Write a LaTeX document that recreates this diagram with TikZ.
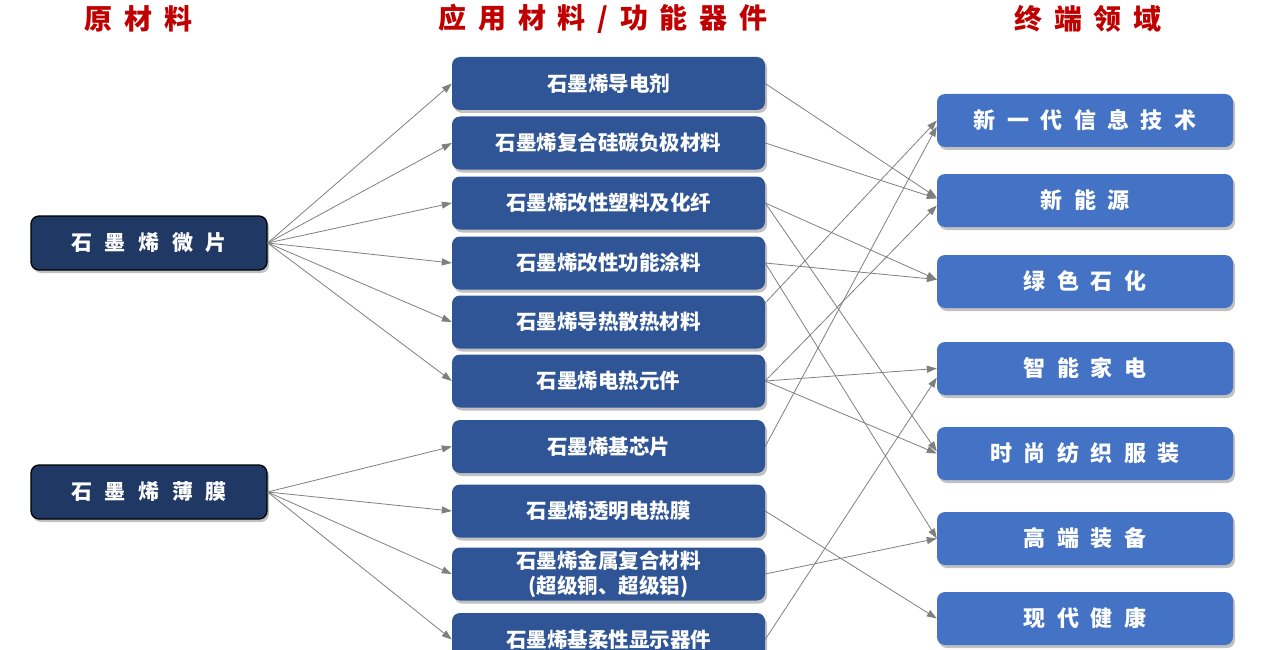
\documentclass[tikz,border=0pt]{standalone}
\usepackage{fontspec}
\setmainfont{Noto Sans CJK SC}
\usetikzlibrary{arrows.meta,shadows}
\definecolor{hdrred}{HTML}{C00000}
\definecolor{navy}{HTML}{1F3864}
\definecolor{midblue}{HTML}{2F5597}
\definecolor{rblue}{HTML}{4472C4}
\definecolor{linegray}{HTML}{7F7F7F}
\newcommand{\gapH}{\hspace{0.42em}}
\newcommand{\gapL}{\hspace{0.6em}}
\newcommand{\gapR}{\hspace{0.52em}}
\begin{document}
\begin{tikzpicture}[x=1pt,y=-1pt,
  shd/.style={drop shadow={shadow xshift=2pt,shadow yshift=-3pt,opacity=0.35,fill=black!70}},
  hdr/.style={text=hdrred,font=\bfseries\fontsize{28}{32}\selectfont,inner sep=0pt},
  lbox/.style={shd,draw=black,line width=1.3pt,fill=navy,rounded corners=8pt,minimum width=236pt,minimum height=54pt,inner sep=0pt,text=white,font=\bfseries\fontsize{21}{25}\selectfont},
  mbox/.style={shd,fill=midblue,rounded corners=8pt,minimum width=313pt,minimum height=53pt,inner sep=0pt,text=white,align=center,font=\bfseries\fontsize{20.5}{25}\selectfont},
  rbox/.style={shd,fill=rblue,rounded corners=8pt,minimum width=296pt,minimum height=53pt,inner sep=0pt,text=white,font=\bfseries\fontsize{22}{26}\selectfont},
  conn/.style={draw=linegray,line width=0.8pt,-{Triangle[length=10pt,width=7pt]}}]
\useasboundingbox (0,0) rectangle (1277,650);
% headers
\node[hdr] (h1) at (138.5,19) {原\gapH 材\gapH 料};
\node[hdr] (h2) at (603,19) {应\gapH 用\gapH 材\gapH 料\gapH /\gapH 功\gapH 能\gapH 器\gapH 件};
\node[hdr] (h3) at (1088,19) {终\gapH 端\gapH 领\gapH 域};
% left
\node[lbox] (L1) at (149,243) {石\gapL 墨\gapL 烯\gapL 微\gapL 片};
\node[lbox] (L2) at (149,492) {石\gapL 墨\gapL 烯\gapL 薄\gapL 膜};
% middle
\node[mbox] (M1) at (608.5,83.5) {石墨烯导电剂};
\node[mbox] (M2) at (608.5,143) {石墨烯复合硅碳负极材料};
\node[mbox] (M3) at (608.5,203) {石墨烯改性塑料及化纤};
\node[mbox] (M4) at (608.5,263) {石墨烯改性功能涂料};
\node[mbox] (M5) at (608.5,322) {石墨烯导热散热材料};
\node[mbox] (M6) at (608.5,381) {石墨烯电热元件};
\node[mbox] (M7) at (608.5,446.5) {石墨烯基芯片};
\node[mbox] (M8) at (608.5,511) {石墨烯透明电热膜};
\node[mbox] (M9) at (608.5,574) {石墨烯金属复合材料\\(超级铜、超级铝)};
\node[mbox] (M10) at (608.5,639.5) {石墨烯基柔性显示器件};
% right
\node[rbox] (R1) at (1085,120.5) {新\gapR 一\gapR 代\gapR 信\gapR 息\gapR 技\gapR 术};
\node[rbox] (R2) at (1085,200.5) {新\gapR 能\gapR 源};
\node[rbox] (R3) at (1085,281.5) {绿\gapR 色\gapR 石\gapR 化};
\node[rbox] (R4) at (1085,368.5) {智\gapR 能\gapR 家\gapR 电};
\node[rbox] (R5) at (1085,453.5) {时\gapR 尚\gapR 纺\gapR 织\gapR 服\gapR 装};
\node[rbox] (R6) at (1085,538.5) {高\gapR 端\gapR 装\gapR 备};
\node[rbox] (R7) at (1085,618.5) {现\gapR 代\gapR 健\gapR 康};
% left -> middle
\foreach \m in {M1,M2,M3,M4,M5,M6} \draw[conn] (L1.east) -- (\m.west);
\foreach \m in {M7,M8,M9,M10} \draw[conn] (L2.east) -- (\m.west);
% middle -> right
\draw[conn] (M1.east) -- ([yshift=3pt]R2.west);
\draw[conn] (M2.east) -- ([yshift=2pt]R2.west);
\draw[conn] (M3.east) -- ([yshift=2pt]R3.west);
\draw[conn] (M3.east) -- ([yshift=2pt]R5.west);
\draw[conn] (M4.east) -- ([yshift=2pt]R3.west);
\draw[conn] (M4.east) -- (R6.west);
\draw[conn] ([yshift=19pt]M5.east) -- (R1.west);
\draw[conn] (M6.east) -- ([yshift=-5pt]R2.west);
\draw[conn] (M6.east) -- (R4.west);
\draw[conn] (M6.east) -- (R5.west);
\draw[conn] (M7.east) -- ([yshift=-6pt]R1.west);
\draw[conn] (M8.east) -- (R7.west);
\draw[conn] (M9.east) -- (R6.west);
\draw[conn] (M10.east) -- ([yshift=-9pt]R4.west);
\end{tikzpicture}
\end{document}
